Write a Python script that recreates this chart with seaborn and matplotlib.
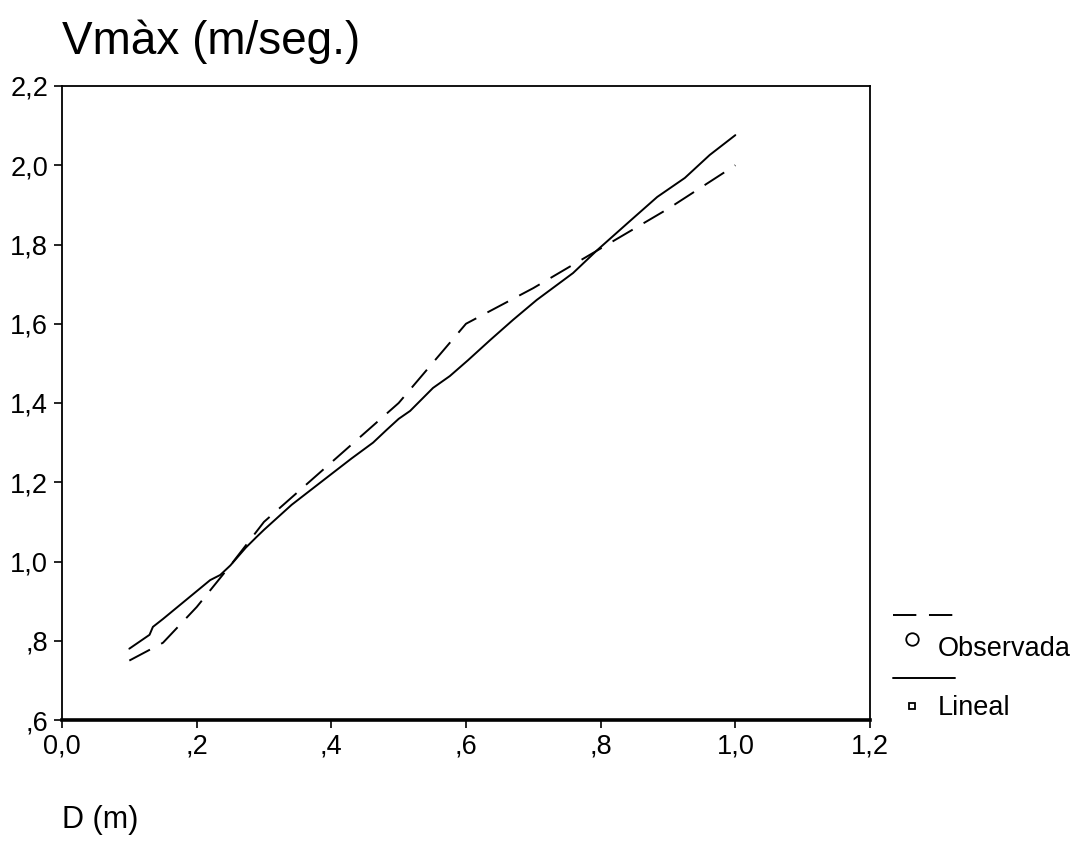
import matplotlib
matplotlib.use("Agg")
import matplotlib.pyplot as plt
import seaborn as sns
import pandas as pd
from matplotlib.lines import Line2D

# Observed data (dashed)
obs_x = [0.10, 0.15, 0.20, 0.25, 0.30, 0.40, 0.50, 0.60, 0.70, 0.80, 0.90, 1.00]
obs_y = [0.75, 0.795, 0.885, 0.99, 1.10, 1.25, 1.40, 1.60, 1.69, 1.79, 1.89, 2.00]

# Linear fit curve (solid)
lin_x = [0.10, 0.13, 0.135, 0.15, 0.175, 0.20, 0.22, 0.235, 0.25, 0.273, 0.289, 0.30,
         0.341, 0.398, 0.43, 0.462, 0.482, 0.50, 0.517, 0.551, 0.576, 0.603, 0.636,
         0.67, 0.705, 0.759, 0.795, 0.844, 0.884, 0.925, 0.962, 1.00]
lin_y = [0.78, 0.815, 0.835, 0.855, 0.89, 0.925, 0.953, 0.966, 0.99, 1.035, 1.062, 1.08,
         1.143, 1.218, 1.26, 1.30, 1.332, 1.36, 1.38, 1.438, 1.468, 1.508, 1.559,
         1.61, 1.66, 1.728, 1.786, 1.86, 1.92, 1.968, 2.026, 2.076]

x_ticks = [0.0, 0.2, 0.4, 0.6, 0.8, 1.0, 1.2]
x_tick_labels = ["0,0", ",2", ",4", ",6", ",8", "1,0", "1,2"]
y_ticks = [0.6, 0.8, 1.0, 1.2, 1.4, 1.6, 1.8, 2.0, 2.2]
y_tick_labels = [",6", ",8", "1,0", "1,2", "1,4", "1,6", "1,8", "2,0", "2,2"]

title = "Vmàx (m/seg.)"
xlabel = "D (m)"
legend_labels = ["Observada", "Lineal"]

sns.set_style("white")
plt.rcParams['font.family'] = ['Liberation Sans', 'DejaVu Sans']
plt.rcParams['text.color'] = 'black'

fig = plt.figure(figsize=(10.75, 8.48), dpi=100)
ax = fig.add_axes([62/1075, 1-720/848, (870-62)/1075, (720-86)/848])

obs_df = pd.DataFrame({"x": obs_x, "y": obs_y})
lin_df = pd.DataFrame({"x": lin_x, "y": lin_y})

sns.lineplot(data=obs_df, x="x", y="y", ax=ax, color="black", lw=1.4,
             estimator=None, sort=False)
ax.lines[-1].set_dashes((12, 6.5))
sns.lineplot(data=lin_df, x="x", y="y", ax=ax, color="black", lw=1.4,
             estimator=None, sort=False)

ax.set_xlim(0, 1.2)
ax.set_ylim(0.6, 2.2)
ax.set_xticks(x_ticks)
ax.set_xticklabels(x_tick_labels)
ax.set_yticks(y_ticks)
ax.set_yticklabels(y_tick_labels)
ax.tick_params(axis="both", direction="out", length=6, width=1.2, color="black",
               labelsize=19.5, labelcolor="black", left=True, bottom=True, pad=4)
ax.set_xlabel("")
ax.set_ylabel("")
for side, sp in ax.spines.items():
    sp.set_visible(True)
    sp.set_color("black")
    sp.set_linewidth(1.3)
ax.spines["bottom"].set_linewidth(2.6)

fig.text(62/1075, 1-42/848, title, fontsize=33, va="center", ha="left", color="black")
fig.text(62/1075, 1-820/848, xlabel, fontsize=22, va="center", ha="left", color="black")

# Legend (manual, SPSS style)
def fx(px):
    return px / 1075
def fy(py):
    return 1 - py / 848

fig.add_artist(Line2D([fx(893), fx(955)], [fy(615), fy(615)], color="black",
                      lw=1.4, dashes=(12, 6.5), transform=fig.transFigure))
fig.add_artist(Line2D([fx(912)], [fy(639)], marker="o", markersize=9,
                      markerfacecolor="white", markeredgecolor="black",
                      markeredgewidth=1.3, linestyle="none", transform=fig.transFigure))
fig.text(fx(938), fy(649), legend_labels[0], fontsize=19.5, va="center", ha="left", color="black")
fig.add_artist(Line2D([fx(893), fx(955)], [fy(678), fy(678)], color="black",
                      lw=1.4, transform=fig.transFigure))
fig.add_artist(Line2D([fx(912)], [fy(706)], marker="s", markersize=5,
                      markerfacecolor="white", markeredgecolor="black",
                      markeredgewidth=1.3, linestyle="none", transform=fig.transFigure))
fig.text(fx(938), fy(708), legend_labels[1], fontsize=19.5, va="center", ha="left", color="black")

fig.savefig("out.png", dpi=100)
